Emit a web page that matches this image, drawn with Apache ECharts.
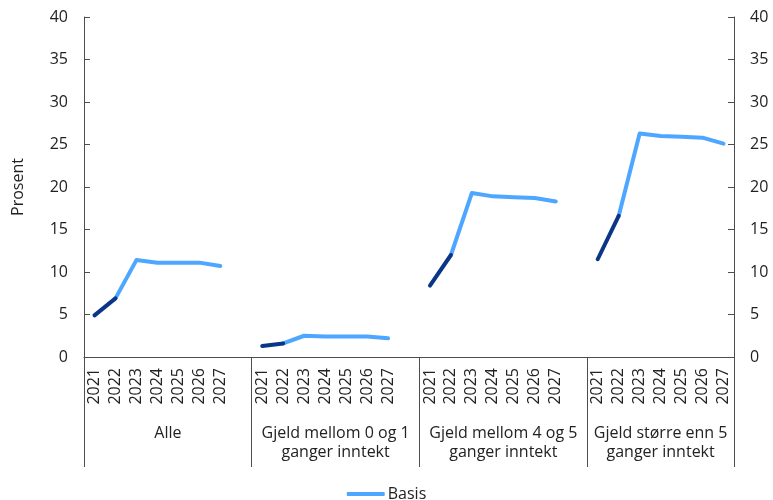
<!DOCTYPE html>
<html>
<head>
<meta charset="utf-8">
<script src="https://cdn.jsdelivr.net/npm/echarts@6/dist/echarts.min.js"></script>
<style>
html,body{margin:0;padding:0;background:#fff;}
#chart{width:773px;height:500px;}
</style>
</head>
<body>
<div id="chart"></div>
<script>
const years = ['2021', '2022', '2023', '2024', '2025', '2026', '2027'];
const groups = ['Alle', 'Gjeld mellom 0 og 1\nganger inntekt', 'Gjeld mellom 4 og 5\nganger inntekt', 'Gjeld større enn 5\nganger inntekt'];
const alle = [4.9, 6.9, 11.4, 11.1, 11.1, 11.1, 10.7];
const gjeld0til1 = [1.3, 1.6, 2.5, 2.4, 2.4, 2.4, 2.2];
const gjeld4til5 = [8.4, 12.0, 19.3, 18.9, 18.8, 18.7, 18.3];
const gjeldOver5 = [11.5, 16.6, 26.3, 26.0, 25.9, 25.8, 25.1];
const groupValues = [alle, gjeld0til1, gjeld4til5, gjeldOver5];
const historicalCount = 2; // 2021-2022 drawn in dark blue
const yMin = 0, yMax = 40, yStep = 5;

const slot = years.length + 1; // 7 years + gap per group
const categories = [];
groups.forEach((g, gi) => {
  years.forEach(y => categories.push(y));
  if (gi < groups.length - 1) categories.push('');
});
const total = categories.length;

const series = [];
groups.forEach((g, gi) => {
  const vals = groupValues[gi];
  const dark = new Array(total).fill(null);
  const light = new Array(total).fill(null);
  vals.forEach((v, i) => {
    const idx = gi * slot + i;
    if (i < historicalCount) dark[idx] = v;
    if (i >= historicalCount - 1) light[idx] = v;
  });
  series.push({
    name: 'Basis', type: 'line', data: light, showSymbol: false, symbol: 'none',
    lineStyle: { color: '#4DA6FF', width: 4, cap: 'round', join: 'round' },
    itemStyle: { color: '#4DA6FF' }, connectNulls: false, z: 2
  });
  series.push({
    name: 'Historisk', type: 'line', data: dark, showSymbol: false, symbol: 'none',
    lineStyle: { color: '#0B3586', width: 4, cap: 'round', join: 'round' },
    itemStyle: { color: '#0B3586' }, connectNulls: false, z: 3
  });
});

const groupCenters = groups.map((g, gi) => gi * slot + (gi < groups.length - 1 ? slot / 2 : years.length / 2));
const groupBounds = groups.map((g, gi) => gi * slot).concat([total]);

const font = '"Open Sans", "DejaVu Sans", sans-serif';
const txt = '#222222';
const axisColor = '#4d4d4d';

const chart = echarts.init(document.getElementById('chart'), null, { renderer: 'canvas' });
chart.setOption({
  animation: false,
  textStyle: { fontFamily: font },
  grid: { left: 84, right: 39, top: 17, bottom: 143, containLabel: false },
  legend: {
    data: ['Basis'], top: 481, left: 'center',
    icon: 'roundRect', itemWidth: 38, itemHeight: 4, itemGap: 4,
    textStyle: { fontFamily: font, fontSize: 16, color: txt, padding: [0, 0, 0, -2] }
  },
  xAxis: [
    {
      type: 'category', data: categories, position: 'bottom', boundaryGap: true,
      axisLine: { show: true, lineStyle: { color: axisColor, width: 1 } },
      axisTick: { show: false },
      axisLabel: { rotate: 90, fontSize: 16, color: txt, fontFamily: font, margin: 11, interval: 0 },
      splitLine: { show: false }
    },
    {
      type: 'value', min: 0, max: total, position: 'bottom',
      axisLine: { show: false },
      axisTick: { show: true, inside: false, length: 110, customValues: groupBounds, lineStyle: { color: axisColor, width: 1 } },
      axisLabel: {
        customValues: groupCenters, fontSize: 16, color: txt, fontFamily: font, margin: 67, lineHeight: 19,
        align: 'center',
        formatter: function (v) { const i = groupCenters.indexOf(v); return i >= 0 ? groups[i] : ''; }
      },
      splitLine: { show: false }
    }
  ],
  yAxis: [
    {
      type: 'value', min: yMin, max: yMax, interval: yStep, position: 'left',
      name: 'Prosent', nameLocation: 'middle', nameGap: 58, nameRotate: 90,
      nameTextStyle: { fontSize: 16, color: txt, fontFamily: font },
      axisLine: { show: true, lineStyle: { color: axisColor, width: 1 } },
      axisTick: { show: true, inside: true, length: 6, lineStyle: { color: axisColor } },
      axisLabel: { fontSize: 16, color: txt, fontFamily: font, margin: 16 },
      splitLine: { show: false }
    },
    {
      type: 'value', min: yMin, max: yMax, interval: yStep, position: 'right',
      axisLine: { show: true, lineStyle: { color: axisColor, width: 1 } },
      axisTick: { show: true, inside: true, length: 6, lineStyle: { color: axisColor } },
      axisLabel: { fontSize: 16, color: txt, fontFamily: font, margin: 16 },
      splitLine: { show: false }
    }
  ],
  series: series
});
</script>
</body>
</html>
